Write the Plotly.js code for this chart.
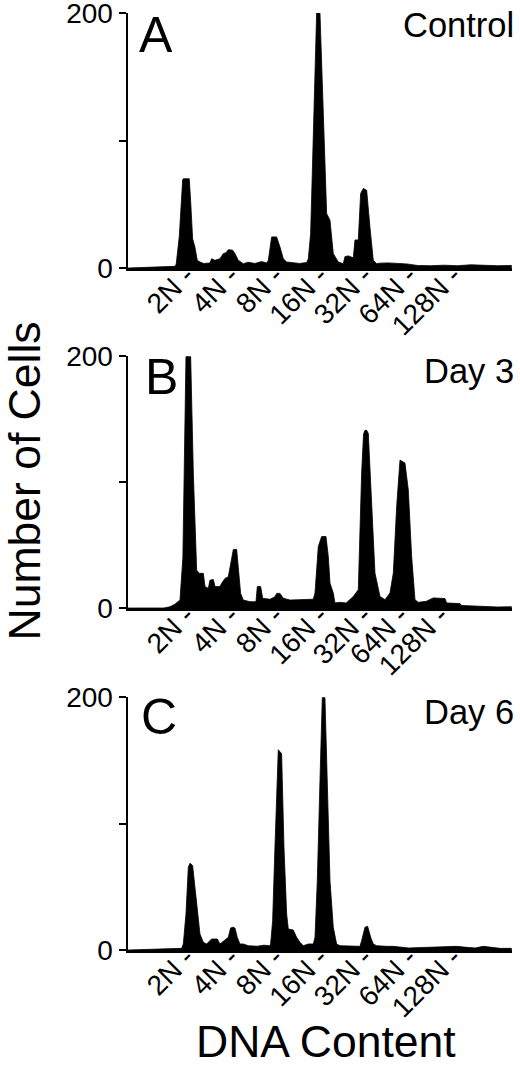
<!DOCTYPE html>
<html>
<head>
<meta charset="utf-8">
<script src="https://cdn.plot.ly/plotly-3.0.1.min.js"></script>
<style>html,body{margin:0;padding:0;background:#fff;}#chart{width:520px;height:1066px;}</style>
</head>
<body>
<div id="chart"></div>
<script>
// DNA content position in log2 units (1 = 2N, 2 = 4N, ... 7 = 128N); counts = number of cells
const xA = [-0.30, 0.20, 0.56, 0.75, 0.78, 0.85, 0.925, 0.94, 1.0, 1.074, 1.104, 1.149, 1.20, 1.254, 1.314, 1.40, 1.539, 1.576, 1.65, 1.764, 1.839, 1.90, 1.951, 2.048, 2.10, 2.175, 2.288, 2.40, 2.55, 2.70, 2.812, 2.85, 2.925, 3.037, 3.112, 3.187, 3.262, 3.40, 3.55, 3.711, 3.749, 3.801, 3.861, 3.90, 3.936, 4.011, 4.071, 4.161, 4.236, 4.31, 4.423, 4.535, 4.573, 4.65, 4.76, 4.797, 4.872, 4.925, 4.985, 5.06, 5.134, 5.209, 5.284, 5.359, 5.55, 5.75, 5.958, 6.2, 6.5, 6.8, 7.1, 7.4, 7.7, 8.0, 8.32];
const yA = [0, 0.5, 1, 1.3, 3, 25, 69, 70, 70, 70, 53, 23, 16.5, 6, 4.7, 3.5, 4, 7.3, 6, 7.3, 11.3, 12, 14.4, 14, 11.3, 6, 3.4, 4.5, 3.6, 5, 4, 6, 24.4, 24.4, 16.5, 7.3, 4.7, 4, 3.6, 4.3, 7.3, 27, 105, 160, 200, 200, 132, 42.7, 37.5, 11.3, 4.7, 3.4, 9, 9.5, 8, 22, 22, 58.5, 62.4, 61, 32, 6, 3.4, 3.8, 4, 3.5, 3.2, 2, 1.8, 2.2, 1.8, 2.5, 2, 1.8, 2];

const xB = [-0.30, 0.50, 0.64, 0.75, 0.865, 0.93, 0.978, 1.0, 1.06, 1.105, 1.165, 1.24, 1.30, 1.39, 1.427, 1.502, 1.539, 1.614, 1.652, 1.764, 1.802, 1.876, 1.951, 2.026, 2.064, 2.139, 2.176, 2.228, 2.288, 2.438, 2.573, 2.603, 2.678, 2.723, 2.888, 3.0, 3.038, 3.112, 3.187, 3.337, 3.50, 3.70, 3.861, 3.899, 3.973, 4.048, 4.146, 4.198, 4.236, 4.31, 4.348, 4.46, 4.60, 4.76, 4.872, 4.947, 4.99, 5.022, 5.06, 5.097, 5.172, 5.247, 5.359, 5.472, 5.584, 5.659, 5.734, 5.809, 5.921, 5.996, 6.071, 6.146, 6.22, 6.40, 6.558, 6.70, 6.82, 6.857, 7.157, 7.194, 7.531, 7.606, 8.0, 8.32];
const yB = [0, 0, 1, 3, 6.3, 40, 150, 199.5, 199.5, 199.5, 107, 30, 27.5, 27.5, 17, 15.6, 22, 22.7, 17, 17, 19.6, 23.5, 24.9, 40.7, 46.5, 46.5, 32.8, 11.6, 6.3, 5, 5, 17, 17, 7.7, 6.9, 9, 11.6, 11.6, 7.7, 6.3, 6.5, 7, 7, 11.9, 48.8, 56.7, 56.7, 40.9, 19.8, 11.9, 4, 4.5, 4, 9.2, 14.5, 107, 138, 141, 141, 138.5, 80.5, 27.7, 9.2, 6.6, 11.9, 27.7, 80.5, 117.4, 115, 93.7, 40.9, 6.6, 4.5, 5.3, 8, 8, 7.5, 4, 3.5, 2, 1.5, 1, 0.8, 1];

const xC = [-0.30, 0.64, 0.902, 0.94, 1.0, 1.052, 1.09, 1.149, 1.202, 1.254, 1.314, 1.389, 1.464, 1.576, 1.65, 1.704, 1.764, 1.951, 2.003, 2.05, 2.1, 2.153, 2.213, 2.288, 2.40, 2.60, 2.75, 2.887, 2.902, 2.947, 2.999, 3.074, 3.149, 3.202, 3.262, 3.299, 3.411, 3.486, 3.561, 3.636, 3.75, 3.861, 3.899, 3.951, 4.011, 4.063, 4.123, 4.176, 4.236, 4.31, 4.385, 4.46, 4.70, 4.91, 4.947, 5.022, 5.082, 5.15, 5.209, 5.284, 5.509, 5.659, 6.0, 6.558, 6.8, 7.082, 7.306, 7.5, 7.681, 7.9, 8.056, 8.32];
const yC = [0, 0.8, 1.3, 4.75, 28.5, 65.4, 68.6, 66.8, 49.6, 28.5, 12.7, 6.1, 4.75, 8.7, 8.7, 8.7, 4.75, 10, 17.4, 18, 17.4, 10, 4.75, 4.75, 3.4, 3, 3.8, 3.4, 4.75, 23.2, 81.3, 158.3, 155.2, 81.3, 28.5, 16.6, 15.8, 10, 6.1, 3.4, 4.75, 4.75, 10, 54.9, 134, 199.5, 199.5, 120.9, 54.9, 18, 4.75, 3.4, 2.9, 2.9, 7.4, 18, 18.7, 10, 4.75, 3.4, 2.9, 2.9, 1.6, 2.1, 2.1, 2.9, 2.1, 1.6, 2.9, 2.1, 1.3, 1.3];

const tickLabels = ["2N", "4N", "8N", "16N", "32N", "64N", "128N"];
const tickPosA = [1, 2, 3, 4, 5, 6, 7];
const tickPosB = [1, 2, 3, 4, 4.98, 5.81, 6.71];
const tickPosC = [1, 2, 3, 4, 5, 6, 7];
const yTickVals = [0, 100, 200];
const yTickText = ["0", "", "200"];
const panelLetters = ["A", "B", "C"];
const panelNames = ["Control", "Day 3", "Day 6"];

const FONT = "Liberation Sans, Arial, Helvetica, sans-serif";
const W = 520, H = 1066;
const XTICK_SIZE = 28;
const xDom = [128 / W, 512 / W];
const panelsPx = [[13, 268], [356, 608], [697, 950]];
const yDoms = panelsPx.map(p => [1 - p[1] / H, 1 - p[0] / H]);

function trace(x, y, i) {
  const s = i === 0 ? "" : String(i + 1);
  return {
    x: x, y: y, type: "scatter", mode: "lines",
    line: {color: "#000", width: 0.8},
    fill: "tozeroy", fillcolor: "#000",
    xaxis: "x" + s, yaxis: "y" + s, hoverinfo: "skip"
  };
}
const data = [trace(xA, yA, 0), trace(xB, yB, 1), trace(xC, yC, 2)];

function xaxis(i, tickPos) {
  const s = i === 0 ? "" : String(i + 1);
  return {
    domain: xDom, range: [-0.303, 8.326], anchor: "y" + s,
    showline: true, linewidth: 3, linecolor: "#000",
    showgrid: false, zeroline: false, ticks: "",
    tickmode: "array", tickvals: tickPos,
    ticktext: tickLabels.map(t => t + " -"),
    tickangle: -45, tickfont: {family: FONT, size: XTICK_SIZE, color: "#000"},
    ticklabelstandoff: -20, ticklabeloverflow: "allow"
  };
}
function yaxis(i) {
  const s = i === 0 ? "" : String(i + 1);
  return {
    domain: yDoms[i], range: [0, 200], anchor: "x" + s,
    showline: true, linewidth: 2.5, linecolor: "#000",
    showgrid: false, zeroline: false,
    ticks: "outside", ticklen: 7, tickwidth: 2, tickcolor: "#000",
    tickmode: "array", tickvals: yTickVals, ticktext: yTickText,
    tickfont: {family: FONT, size: 28, color: "#000"},
    ticklabelstandoff: 0, ticklabeloverflow: "allow"
  };
}

const annotations = [];
const letterPos = [[137, 35.5], [143, 377.5], [139, 717]];
const namePos = [25, 370.5, 711.5];
for (let i = 0; i < 3; i++) {
  annotations.push({
    text: panelLetters[i], xref: "paper", yref: "paper",
    x: letterPos[i][0] / W, y: 1 - letterPos[i][1] / H,
    xanchor: "left", yanchor: "middle", showarrow: false,
    font: {family: FONT, size: 50, color: "#000"}
  });
  annotations.push({
    text: panelNames[i], xref: "paper", yref: "paper",
    x: 516 / W, y: 1 - namePos[i] / H,
    xanchor: "right", yanchor: "middle", showarrow: false,
    font: {family: FONT, size: 34.5, color: "#000"}
  });
}
annotations.push({
  text: "Number of Cells", xref: "paper", yref: "paper",
  x: 24.5 / W, y: 1 - 481 / H, xanchor: "center", yanchor: "middle",
  textangle: -90, showarrow: false, borderpad: 0,
  font: {family: FONT, size: 44.5, color: "#000"}
});
annotations.push({
  text: "DNA Content", xref: "paper", yref: "paper",
  x: 326 / W, y: 1 - 1041.3 / H, xanchor: "center", yanchor: "middle",
  showarrow: false, borderpad: 0,
  font: {family: FONT, size: 44.5, color: "#000"}
});

const layout = {
  width: W, height: H,
  margin: {l: 0, r: 0, t: 0, b: 0},
  paper_bgcolor: "#fff", plot_bgcolor: "#fff",
  showlegend: false,
  xaxis: xaxis(0, tickPosA), xaxis2: xaxis(1, tickPosB), xaxis3: xaxis(2, tickPosC),
  yaxis: yaxis(0), yaxis2: yaxis(1), yaxis3: yaxis(2),
  annotations: annotations
};

Plotly.newPlot("chart", data, layout, {staticPlot: true, displayModeBar: false}).then(function (gd) {
  // fine-tune the slanted tick-label distance so the dash sits just under the axis
  const el = gd.querySelector(".xtick text");
  if (!el) return;
  const ya = gd._fullLayout.yaxis;
  const base = ya._offset + ya._length;
  const r = el.getBoundingClientRect();
  const target = 47 + 0.15 * XTICK_SIZE;
  const delta = target - (r.bottom - base);
  if (Math.abs(delta) < 1) return;
  const so = Math.round(gd._fullLayout.xaxis.ticklabelstandoff + delta);
  return Plotly.relayout(gd, {
    "xaxis.ticklabelstandoff": so, "xaxis2.ticklabelstandoff": so, "xaxis3.ticklabelstandoff": so
  });
});
</script>
</body>
</html>
